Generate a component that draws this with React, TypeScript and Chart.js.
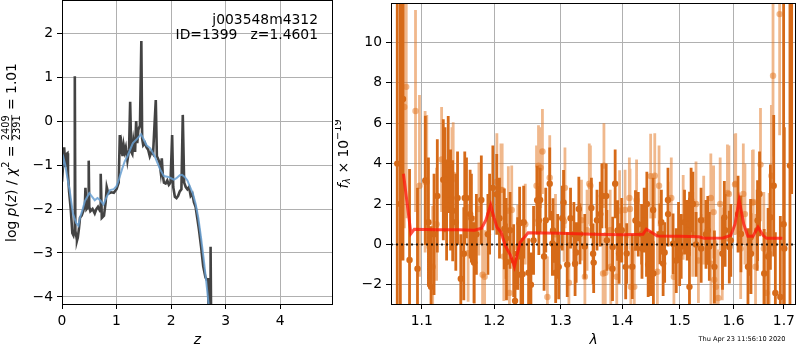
import React, { useEffect, useRef } from "react";
import { Chart, registerables } from "chart.js";
Chart.register(...registerables);

const FONT = '"DejaVu Sans", sans-serif';
const FS = 13.89;

// ---------- left panel: log p(z) ----------
const zDark = [0, 0.02, 0.04, 0.06, 0.08, 0.1, 0.11, 0.13, 0.16, 0.19, 0.21, 0.225, 0.235, 0.245, 0.26, 0.275, 0.29, 0.31, 0.33, 0.36, 0.39, 0.42, 0.43, 0.45, 0.48, 0.49, 0.5, 0.52, 0.56, 0.6, 0.63, 0.66, 0.7, 0.71, 0.73, 0.77, 0.8, 0.82, 0.85, 0.9, 0.95, 1.0, 1.04, 1.06, 1.07, 1.09, 1.11, 1.13, 1.15, 1.17, 1.2, 1.23, 1.25, 1.27, 1.29, 1.31, 1.34, 1.36, 1.38, 1.4, 1.43, 1.455, 1.47, 1.49, 1.52, 1.55, 1.58, 1.61, 1.64, 1.67, 1.69, 1.72, 1.74, 1.76, 1.79, 1.81, 1.83, 1.85, 1.87, 1.9, 1.93, 1.96, 1.99, 2.02, 2.04, 2.07, 2.1, 2.13, 2.16, 2.19, 2.215, 2.24, 2.27, 2.3, 2.33, 2.36, 2.39, 2.42, 2.45, 2.48, 2.51, 2.55, 2.59, 2.63, 2.65, 2.68, 2.69, 2.715, 2.725, 2.735, 2.75];
const logpDark = [-1.38, -1.0, -0.6, -1.05, -0.75, -0.73, -1.2, -1.6, -2.0, -2.55, -2.6, -2.5, 1.02, -2.5, -2.6, -2.72, -2.65, -2.45, -2.2, -2.15, -2.05, -1.9, -1.52, -2.0, -1.95, -0.9, -1.95, -2.05, -2.0, -2.1, -2.0, -1.95, -2.05, -1.2, -2.2, -2.15, -1.85, -1.5, -1.65, -1.62, -1.63, -1.55, -1.4, -0.32, -0.75, -0.55, -0.8, -0.55, -0.7, -0.6, -0.9, -0.65, 0.44, -0.7, -0.75, -0.45, -0.7, 0.0, -0.5, -0.2, -0.1, 1.82, -0.4, -0.55, -0.5, -0.6, -0.65, -0.8, -0.7, -0.75, -0.25, 0.48, -0.8, -0.85, -0.95, -1.15, -0.85, -1.25, -1.4, -1.42, -1.35, -1.45, -1.4, -0.32, -1.5, -1.72, -1.75, -1.7, -1.6, -1.55, 0.14, -1.4, -1.5, -1.55, -1.5, -1.7, -1.65, -1.85, -1.95, -2.2, -2.45, -2.85, -3.3, -3.55, -3.6, -3.6, -4.6, -4.6, -2.86, -4.6, -5.0];
const zSmooth = [0, 0.03, 0.06, 0.1, 0.14, 0.2, 0.26, 0.3, 0.33, 0.38, 0.42, 0.5, 0.55, 0.6, 0.65, 0.7, 0.76, 0.82, 0.88, 0.95, 1.0, 1.05, 1.1, 1.15, 1.2, 1.3, 1.38, 1.45, 1.5, 1.55, 1.62, 1.7, 1.75, 1.8, 1.87, 1.95, 2.0, 2.05, 2.1, 2.16, 2.2, 2.25, 2.3, 2.35, 2.4, 2.45, 2.5, 2.55, 2.6, 2.65, 2.7, 2.73];
const logpSmooth = [-1.1, -0.85, -1.0, -1.3, -1.57, -2.1, -2.32, -2.38, -2.2, -2.0, -1.82, -1.64, -1.72, -1.8, -1.75, -1.8, -1.9, -1.72, -1.57, -1.55, -1.48, -1.3, -1.1, -0.92, -0.8, -0.5, -0.4, -0.3, -0.42, -0.55, -0.62, -0.8, -0.95, -1.1, -1.25, -1.27, -1.3, -1.33, -1.3, -1.23, -1.22, -1.27, -1.35, -1.5, -1.65, -1.88, -2.2, -2.65, -3.15, -3.7, -4.3, -4.7];
const zTicks = [0, 1, 2, 3, 4];
const logpTicks = [-4, -3, -2, -1, 0, 1, 2];

// ---------- right panel: spectrum ----------
const lamDark = [1.068, 1.072, 1.0754, 1.0839, 1.0943, 1.1088, 1.1123, 1.1163, 1.1207, 1.1288, 1.131, 1.1333, 1.1355, 1.1387, 1.1459, 1.1483, 1.1528, 1.1583, 1.1607, 1.1676, 1.1713, 1.1746, 1.1816, 1.191, 1.1934, 1.1981, 1.2077, 1.2174, 1.2232, 1.2285, 1.2305, 1.2344, 1.2393, 1.2433, 1.2507, 1.2542, 1.2582, 1.2682, 1.2742, 1.2768, 1.2829, 1.287, 1.2921, 1.2952, 1.3024, 1.3102, 1.3154, 1.3207, 1.3243, 1.3286, 1.3381, 1.3488, 1.3525, 1.3579, 1.3633, 1.366, 1.3742, 1.3835, 1.3879, 1.3945, 1.3989, 1.4073, 1.4168, 1.427, 1.4327, 1.4372, 1.4412, 1.4441, 1.4487, 1.4527, 1.4672, 1.473, 1.4789, 1.4937, 1.4978, 1.5026, 1.5086, 1.5134, 1.5176, 1.5206, 1.5297, 1.5389, 1.5481, 1.5543, 1.5791, 1.5841, 1.5949, 1.6089, 1.6282, 1.6334, 1.6464, 1.651, 1.6681, 1.6727, 1.6794, 1.6827, 1.6928, 1.6995, 1.7009, 1.7125, 1.716,
  1.1047, 1.1416, 1.157, 1.1658, 1.2037, 1.2147, 1.2179, 1.2373, 1.2418, 1.2637, 1.2662, 1.288, 1.2968, 1.3044, 1.3226, 1.3304, 1.3516, 1.373, 1.3838, 1.3919, 1.4056, 1.4222, 1.4334, 1.4418, 1.4532, 1.4646, 1.4703, 1.4791, 1.488, 1.4998, 1.5178, 1.5239, 1.5391, 1.5514, 1.5638, 1.5826, 1.5921, 1.6145, 1.6341, 1.6471, 1.6603];
const fluxDark = [4.0, 2.0, 7.2, -0.77, -1.2, 1.1, -2.1, 0.5, 2.4, 3.2, 3.2, 1.7, 3.95, 2.2, 1.1, 2.3, -1.7, 2.3, 2.3, 1.3, -0.9, 0.5, 2.2, 0.5, 1.5, 2.8, 1.3, 0.3, 0.7, -0.8, -2.8, -0.45, -1.5, 1.1, -1.4, -2.0, 0.2, 2.2, -0.6, 1.2, 3.0, 0.05, -1.4, -0.1, 1.3, -1.0, 1.3, 0.5, -0.4, 1.75, -0.1, 1.8, -0.9, 1.2, 1.5, 2.4, 0.2, -1.2, 3.0, -0.45, 0.7, -0.45, -1.1, 1.0, 0.5, 1.2, -0.1, -1.0, -0.95, 1.7, 1.1, -0.4, 2.2, -0.8, 0.6, -0.1, 1.1, 0.7, -2.1, 2.2, 0.0, 1.2, 0.5, -0.1, -0.45, 0.7, 0.2, 1.5, -1.1, 0.35, 0.7, 2.5, -0.6, 1.35, 2.9, -2.4, -2.6, 1.0, -0.2, 3.9, 13.0,
  3.17, 1.67, -0.46, 1.5, 2.48, 0.77, -0.87, 1.05, -1.47, 2.19, 1.18, 0.69, -1.11, 2.08, -0.95, 0.52, -0.46, 2.4, -0.13, 0.69, -1.11, 1.18, -0.2, 2.0, -1.44, 0.52, -0.95, 1.5, 0.03, -0.46, 1.01, 2.0, -0.2, 0.69, -1.11, 1.34, -0.13, 0.52, -0.46, 1.18, -1.44];
const errDark = [10, 12, 8, 4.5, 4.0, 3.2, 3.0, 3.0, 2.8, 3.0, 2.6, 2.5, 2.4, 2.5, 2.4, 2.3, 2.2, 2.3, 2.0, 2.2, 2.0, 2.0, 2.2, 2.0, 2.0, 2.1, 2.0, 2.0, 1.9, 1.8, 2.0, 1.8, 1.8, 1.8, 1.7, 1.6, 1.7, 1.6, 1.7, 1.6, 1.8, 1.6, 1.5, 1.6, 1.6, 1.6, 1.5, 1.6, 1.5, 1.6, 1.6, 1.5, 1.5, 1.5, 1.6, 1.6, 1.5, 1.6, 1.7, 1.5, 1.6, 1.5, 1.6, 1.6, 1.5, 1.6, 1.5, 1.6, 1.6, 1.6, 1.6, 1.5, 1.6, 1.6, 1.5, 1.6, 1.6, 1.5, 1.7, 1.6, 1.6, 1.6, 1.7, 1.7, 1.8, 1.8, 1.8, 1.9, 1.9, 1.9, 2.0, 2.1, 2.4, 2.6, 3.5, 3.0, 4.0, 12, 6.0, 9.0, 10.5,
  3.2, 2.5, 2.3, 2.2, 2.0, 2.0, 1.9, 1.8, 1.8, 1.7, 1.7, 1.6, 1.6, 1.6, 1.6, 1.5, 1.5, 1.6, 1.5, 1.5, 1.6, 1.5, 1.5, 1.6, 1.6, 1.5, 1.6, 1.6, 1.5, 1.6, 1.6, 1.6, 1.7, 1.7, 1.8, 1.8, 1.8, 1.9, 2.0, 2.0, 2.2];
const lamLight = [1.0771, 1.0796, 1.0917, 1.0969, 1.1044, 1.1066, 1.1145, 1.1197, 1.1265, 1.1406, 1.1423, 1.163, 1.1716, 1.1782, 1.1834, 1.1863, 1.2039, 1.2098, 1.2116, 1.214, 1.2222, 1.2256, 1.2345, 1.2457, 1.2627, 1.2657, 1.269, 1.2717, 1.2793, 1.2829, 1.2918, 1.3052, 1.3066, 1.3128, 1.3328, 1.3418, 1.3454, 1.3472, 1.3679, 1.3693, 1.3715, 1.3796, 1.3806, 1.3906, 1.3953, 1.4045, 1.4118, 1.4129, 1.4143, 1.4202, 1.4241, 1.4484, 1.4556, 1.4602, 1.4631, 1.4848, 1.4895, 1.5062, 1.5236, 1.5296, 1.534, 1.5438, 1.5571, 1.5573, 1.5623, 1.5635, 1.5666, 1.571, 1.5747, 1.5786, 1.5885, 1.5913, 1.603, 1.6044, 1.614, 1.6191, 1.6371, 1.6386, 1.6431, 1.6529, 1.6595, 1.6648, 1.6747, 1.678, 1.6914,
  1.2206, 1.3383, 1.6223, 1.6703];
const fluxLight = [6.8, 7.8, 6.6, 2.9, 3.1, 3.1, -1.1, 1.0, 4.2, 3.2, 3.45, -0.44, -0.9, 1.75, -1.5, -1.6, 3.1, 2.7, 2.7, -0.6, -2.4, 1.7, -0.15, 1.0, 2.9, 3.9, 3.8, 4.6, -2.6, 3.3, 0.5, 1.14, 2.8, -1.9, 1.2, 0.7, 3.0, 2.9, -1.44, 3.9, -1.4, 0.7, -1.1, -1.6, 1.67, 1.7, 2.3, 1.75, -2.1, -2.1, 2.2, 3.38, 3.4, -1.35, 2.9, 2.3, -1.6, 1.34, 0.5, 2.0, -0.8, 1.2, 2.3, -0.95, 1.6, -1.75, -2.1, -2.65, 2.0, -0.46, 2.55, 2.5, 2.97, 3.0, -0.2, 2.5, 2.07, 2.1, -1.1, 3.95, -0.2, -2.4, 3.4, 8.35, 11.4,
  1.67, -1.6, 1.5, -0.46];
const errLight = [6, 6.5, 5, 4.5, 3.5, 3.3, 3.0, 2.8, 2.6, 2.6, 2.6, 2.4, 2.3, 2.3, 2.3, 2.3, 2.4, 2.3, 2.3, 2.2, 2.2, 2.2, 2.1, 2.0, 2.0, 2.0, 2.0, 2.1, 2.0, 2.1, 2.0, 2.0, 2.0, 2.0, 2.0, 2.0, 2.0, 2.0, 2.0, 2.1, 2.0, 2.0, 2.0, 2.0, 2.0, 2.0, 2.0, 2.0, 2.0, 2.0, 2.0, 2.1, 2.1, 2.0, 2.0, 2.0, 2.0, 2.1, 2.1, 2.1, 2.1, 2.2, 2.2, 2.2, 2.3, 2.3, 2.3, 2.4, 2.3, 2.3, 2.4, 2.4, 2.5, 2.5, 2.5, 2.5, 2.6, 2.6, 2.6, 2.8, 2.8, 3.0, 3.5, 4.0, 6.0,
  2.2, 2.0, 2.5, 3.0];
const lamModel = [1.076, 1.0857, 1.09, 1.12, 1.15, 1.172, 1.182, 1.188, 1.195, 1.2, 1.204, 1.21, 1.216, 1.224, 1.2295, 1.238, 1.25, 1.3, 1.35, 1.4, 1.435, 1.441, 1.45, 1.46, 1.5, 1.535, 1.545, 1.58, 1.595, 1.603, 1.611, 1.62, 1.628, 1.638, 1.648, 1.658, 1.665, 1.697];
const fluxModel = [3.5, 0.53, 0.75, 0.73, 0.72, 0.7, 0.8, 1.2, 1.95, 1.3, 0.85, 0.6, -0.05, -0.55, -1.1, 0.1, 0.58, 0.55, 0.5, 0.48, 0.5, 0.75, 0.6, 0.42, 0.4, 0.38, 0.3, 0.32, 0.45, 1.0, 2.2, 1.0, 0.4, 0.4, 0.85, 0.45, 0.3, 0.3];
const lamTicks = [1.1, 1.2, 1.3, 1.4, 1.5, 1.6, 1.7];
const fluxTicks = [-2, 0, 2, 4, 6, 8, 10];
const lamRange = [1.06, 1.725];

type Part = { t?: string; it?: boolean; s?: number; dy?: number; frac?: [string, string] };

function fontOf(p: Part, size: number) {
  return `${p.it ? "italic " : ""}${size * (p.s ?? 1)}px ${FONT}`;
}
function partWidth(ctx: CanvasRenderingContext2D, p: Part, size: number) {
  ctx.font = fontOf(p, size);
  if (p.frac) return Math.max(ctx.measureText(p.frac[0]).width, ctx.measureText(p.frac[1]).width) + 2;
  return ctx.measureText(p.t || "").width;
}
function drawParts(ctx: CanvasRenderingContext2D, parts: Part[], size: number, cx: number, cy: number, rot: number) {
  ctx.save();
  ctx.translate(cx, cy);
  if (rot) ctx.rotate(rot);
  let w = 0;
  for (const p of parts) w += partWidth(ctx, p, size);
  let x = -w / 2;
  ctx.fillStyle = "black";
  ctx.strokeStyle = "black";
  ctx.textBaseline = "middle";
  ctx.textAlign = "left";
  for (const p of parts) {
    const pw = partWidth(ctx, p, size);
    ctx.font = fontOf(p, size);
    if (p.frac) {
      ctx.textAlign = "center";
      ctx.fillText(p.frac[0], x + pw / 2, -0.42 * size);
      ctx.fillText(p.frac[1], x + pw / 2, 0.38 * size);
      ctx.textAlign = "left";
      ctx.lineWidth = 0.8;
      ctx.beginPath();
      ctx.moveTo(x + 0.5, -0.02 * size);
      ctx.lineTo(x + pw - 0.5, -0.02 * size);
      ctx.stroke();
    } else {
      ctx.fillText(p.t || "", x, (p.dy ?? 0) * size);
    }
    x += pw;
  }
  ctx.restore();
}

const minus = (v: number, d = 0) => (d ? v.toFixed(d) : String(v)).replace("-", "\u2212");

function axisCommon(ticksArr: number[], decimals: number, fitKey: "width" | "height", fitVal: number) {
  return {
    afterBuildTicks: (s: any) => {
      s.ticks = ticksArr.map((v) => ({ value: v }));
    },
    afterFit: (s: any) => {
      s[fitKey] = fitVal;
      s.paddingTop = 0;
      s.paddingBottom = 0;
      s.paddingLeft = 0;
      s.paddingRight = 0;
    },
    ticks: {
      color: "black",
      font: { family: FONT, size: FS },
      padding: 4,
      autoSkip: false,
      maxRotation: 0,
      callback: (v: any) => minus(Number(v), decimals),
    },
    grid: { color: "#b0b0b0", lineWidth: 1, tickColor: "black", tickLength: 5, tickWidth: 1 },
    border: { display: false },
  };
}

const framePlugin = (extra: (c: any) => void) => ({
  id: "frame" + Math.random().toString(36).slice(2),
  afterDraw(c: any) {
    const ctx = c.ctx as CanvasRenderingContext2D;
    const a = c.chartArea;
    ctx.save();
    ctx.strokeStyle = "black";
    ctx.lineWidth = 1;
    ctx.strokeRect(Math.round(a.left) + 0.5, Math.round(a.top) - 0.5, Math.round(a.right - a.left) - 1, Math.round(a.bottom - a.top) + 1);
    extra(c);
    ctx.restore();
  },
});

function LeftPanel() {
  const ref = useRef<HTMLCanvasElement>(null);
  useEffect(() => {
    const chart = new Chart(ref.current!, {
      type: "line",
      data: {
        datasets: [
          {
            data: zSmooth.map((z, i) => ({ x: z, y: logpSmooth[i] })),
            borderColor: "rgba(105,160,210,0.85)",
            borderWidth: 2,
            pointRadius: 0,
            tension: 0,
          },
          {
            data: zDark.map((z, i) => ({ x: z, y: logpDark[i] })),
            borderColor: "#434343",
            borderWidth: 2.6,
            pointRadius: 0,
            tension: 0,
          },
        ],
      },
      options: {
        animation: false,
        responsive: false,
        devicePixelRatio: 1,
        layout: { padding: { left: 0, right: 2, top: 1, bottom: 0 } },
        plugins: { legend: { display: false }, tooltip: { enabled: false } },
        scales: {
          x: { type: "linear", min: 0, max: 4.97, ...axisCommon(zTicks, 0, "height", 46) } as any,
          y: { type: "linear", min: -4.16, max: 2.73, ...axisCommon(logpTicks, 0, "width", 62) } as any,
        },
      },
      plugins: [
        framePlugin((c) => {
          const ctx = c.ctx as CanvasRenderingContext2D;
          const a = c.chartArea;
          ctx.fillStyle = "black";
          ctx.font = `${FS}px ${FONT}`;
          ctx.textAlign = "right";
          ctx.textBaseline = "middle";
          ctx.fillText("j003548m4312", a.right - 15, 20);
          ctx.fillText("ID=1399   z=1.4601", a.right - 15, 35);
          ctx.textAlign = "center";
          ctx.font = `italic ${FS}px ${FONT}`;
          ctx.fillText("z", (a.left + a.right) / 2, 340);
          drawParts(
            ctx,
            [
              { t: "log " },
              { t: "p", it: true },
              { t: "(" },
              { t: "z", it: true },
              { t: ") / " },
              { t: "\u03c7", it: true },
              { t: "2", s: 0.7, dy: -0.38 },
              { t: " = " },
              { frac: ["2409", "2391"], s: 0.7 },
              { t: " = 1.01" },
            ],
            FS,
            12,
            (a.top + a.bottom) / 2,
            -Math.PI / 2
          );
        }),
      ],
    });
    return () => chart.destroy();
  }, []);
  return <canvas ref={ref} width={335} height={350} style={{ position: "absolute", left: 0, top: 0 }} />;
}

function bars(lam: number[], f: number[], e: number[]) {
  const out: any[] = [];
  lam.forEach((l, i) => {
    out.push({ x: l, y: f[i] - e[i] }, { x: l, y: f[i] + e[i] }, { x: l, y: null });
  });
  return out;
}

function RightPanel() {
  const ref = useRef<HTMLCanvasElement>(null);
  useEffect(() => {
    const dark = "rgb(214,106,24)";
    const light = "rgba(226,118,34,0.52)";
    const chart = new Chart(ref.current!, {
      type: "line",
      data: {
        datasets: [
          {
            data: lamRange.map((l) => ({ x: l, y: 0 })),
            borderColor: "rgba(0,0,0,0.85)",
            borderWidth: 2,
            borderDash: [2, 3],
            pointRadius: 0,
          },
          {
            data: lamModel.map((l, i) => ({ x: l, y: fluxModel[i] })),
            borderColor: "rgba(255,20,10,0.75)",
            borderWidth: 3,
            pointRadius: 0,
            tension: 0,
          },
          {
            type: "scatter",
            data: lamDark.map((l, i) => ({ x: l, y: fluxDark[i] })),
            backgroundColor: dark,
            borderWidth: 0,
            pointRadius: 3.2,
          } as any,
          {
            data: bars(lamDark, fluxDark, errDark),
            borderColor: dark,
            borderWidth: 2.8,
            pointRadius: 0,
            spanGaps: false,
            borderCapStyle: "butt",
          },
          {
            type: "scatter",
            data: lamLight.map((l, i) => ({ x: l, y: fluxLight[i] })),
            backgroundColor: light,
            borderWidth: 0,
            pointRadius: 3.2,
          } as any,
          {
            data: bars(lamLight, fluxLight, errLight),
            borderColor: light,
            borderWidth: 2.8,
            pointRadius: 0,
            spanGaps: false,
            borderCapStyle: "butt",
          },
        ],
      },
      options: {
        animation: false,
        responsive: false,
        devicePixelRatio: 1,
        layout: { padding: { left: 0, right: 1, top: 1, bottom: 0 } },
        plugins: { legend: { display: false }, tooltip: { enabled: false } },
        scales: {
          x: { type: "logarithmic", min: lamRange[0], max: lamRange[1], ...axisCommon(lamTicks, 1, "height", 46) } as any,
          y: { type: "linear", min: -2.95, max: 11.9, ...axisCommon(fluxTicks, 0, "width", 56) } as any,
        },
      },
      plugins: [
        framePlugin((c) => {
          const ctx = c.ctx as CanvasRenderingContext2D;
          const a = c.chartArea;
          ctx.fillStyle = "black";
          ctx.textAlign = "center";
          ctx.textBaseline = "middle";
          ctx.font = `italic ${FS}px ${FONT}`;
          ctx.fillText("\u03bb", (a.left + a.right) / 2, 340);
          ctx.font = `6.6px ${FONT}`;
          ctx.fillText("Thu Apr 23 11:56:10 2020", 742 - 335, 339);
          drawParts(
            ctx,
            [
              { t: "f", it: true },
              { t: "\u03bb", it: true, s: 0.7, dy: 0.28 },
              { t: " \u00d7 10" },
              { t: "\u221219", s: 0.7, dy: -0.42 },
            ],
            FS,
            9,
            (a.top + a.bottom) / 2,
            -Math.PI / 2
          );
        }),
      ],
    });
    return () => chart.destroy();
  }, []);
  return <canvas ref={ref} width={465} height={350} style={{ position: "absolute", left: 335, top: 0 }} />;
}

export default function App() {
  return (
    <div style={{ position: "fixed", left: 0, top: 0, width: 800, height: 350, background: "white" }}>
      <LeftPanel />
      <RightPanel />
    </div>
  );
}
